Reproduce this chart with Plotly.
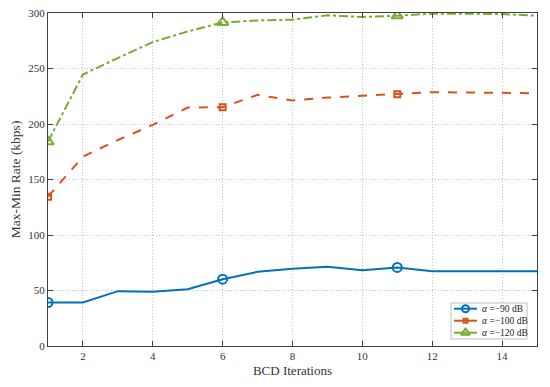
import plotly.graph_objects as go

iterations = list(range(1, 16))
rate_90 = [39.2, 39.2, 49.4, 48.8, 51.2, 60.2, 66.8, 69.5, 71.3, 68.3, 70.8, 67.4, 67.4, 67.4, 67.4]
rate_100 = [134.5, 170.6, 185.6, 199.2, 214.8, 215.2, 226.3, 221.1, 223.8, 225.6, 226.9, 228.7, 228.4, 228.0, 227.7]
rate_120 = [184.1, 244.6, 259.4, 273.8, 283.4, 291.5, 293.3, 294.0, 297.9, 296.4, 297.6, 299.4, 299.4, 299.0, 297.6]
labels = ["<i>α</i> =−90 dB", "<i>α</i> =−100 dB", "<i>α</i> =−120 dB"]
marker_at = [1, 6, 11]

colors = ["#0072BD", "#D95319", "#77AC30"]
dashes = ["solid", "dash", "dashdot"]
symbols = ["circle-open", "square-open", "triangle-up-open"]
msizes = [9, 6, 10]

PLOT_W, PLOT_H = 489, 333  # plot area in pixels, used for the overlay legend axes

fig = go.Figure()
for y, name, c, d, s, ms in zip([rate_90, rate_100, rate_120], labels, colors, dashes, symbols, msizes):
    fig.add_trace(go.Scatter(
        x=iterations, y=y, mode="lines", showlegend=False, name=name,
        line=dict(color=c, width=2, dash=d),
    ))
    mx = [x for x in iterations if x in marker_at]
    my = [v for x, v in zip(iterations, y) if x in marker_at]
    fig.add_trace(go.Scatter(
        x=mx, y=my, mode="markers", showlegend=False, name=name,
        marker=dict(symbol=s, size=ms, color=c, line=dict(width=2, color=c)),
    ))

# custom compact legend (MATLAB style) on a hidden pixel-scaled overlay axis
leg_x0, leg_x1, leg_y0, leg_y1 = 403, 479, 290, 326
row_y = [295.7, 307.7, 319.7]
fig.add_trace(go.Scatter(
    x=[leg_x0, leg_x1, leg_x1, leg_x0, leg_x0], y=[leg_y0, leg_y0, leg_y1, leg_y1, leg_y0],
    xaxis="x2", yaxis="y2", mode="lines", fill="toself", fillcolor="white",
    line=dict(color="#bdbdbd", width=1), showlegend=False, hoverinfo="skip",
))
for ry, name, c, s, ms in zip(row_y, labels, colors, symbols, msizes):
    fig.add_trace(go.Scatter(
        x=[406, 429], y=[ry, ry], xaxis="x2", yaxis="y2", mode="lines", showlegend=False,
        line=dict(color=c, width=2), hoverinfo="skip",
    ))
    fig.add_trace(go.Scatter(
        x=[417.5], y=[ry], xaxis="x2", yaxis="y2", mode="markers", showlegend=False,
        marker=dict(symbol=s, size=ms - 2, color=c, line=dict(width=2, color=c)), hoverinfo="skip",
    ))
    fig.add_annotation(x=432, y=ry, xref="x2", yref="y2", text=name, showarrow=False,
                       xanchor="left", yanchor="middle", font=dict(size=9.5, color="#222"))

axis_common = dict(
    showline=True, mirror="ticks", linecolor="#404040", linewidth=1,
    ticks="inside", ticklen=5, tickcolor="#404040",
    showgrid=True, gridcolor="#c4c4c4", griddash="1px,2px", gridwidth=1,
    zeroline=False, tickfont=dict(size=11, color="#333"), automargin=False,
    ticklabeloverflow="allow",
)

fig.update_layout(
    width=542, height=379,
    margin=dict(l=40, r=13, t=5, b=41),
    paper_bgcolor="white", plot_bgcolor="white",
    font=dict(family="Times New Roman, Liberation Serif, serif", color="#333"),
    xaxis=dict(range=[1, 15], tickvals=[2, 4, 6, 8, 10, 12, 14],
               title=dict(text="BCD Iterations", font=dict(size=13), standoff=4), **axis_common),
    yaxis=dict(range=[0, 300], tickvals=[0, 50, 100, 150, 200, 250, 300],
               title=dict(text="Max-Min Rate (kbps)", font=dict(size=13.5), standoff=5), **axis_common),
    xaxis2=dict(range=[0, PLOT_W], overlaying="x", visible=False, fixedrange=True),
    yaxis2=dict(range=[PLOT_H, 0], overlaying="y", visible=False, fixedrange=True),
    showlegend=False,
)

fig.write_html("out.html")
